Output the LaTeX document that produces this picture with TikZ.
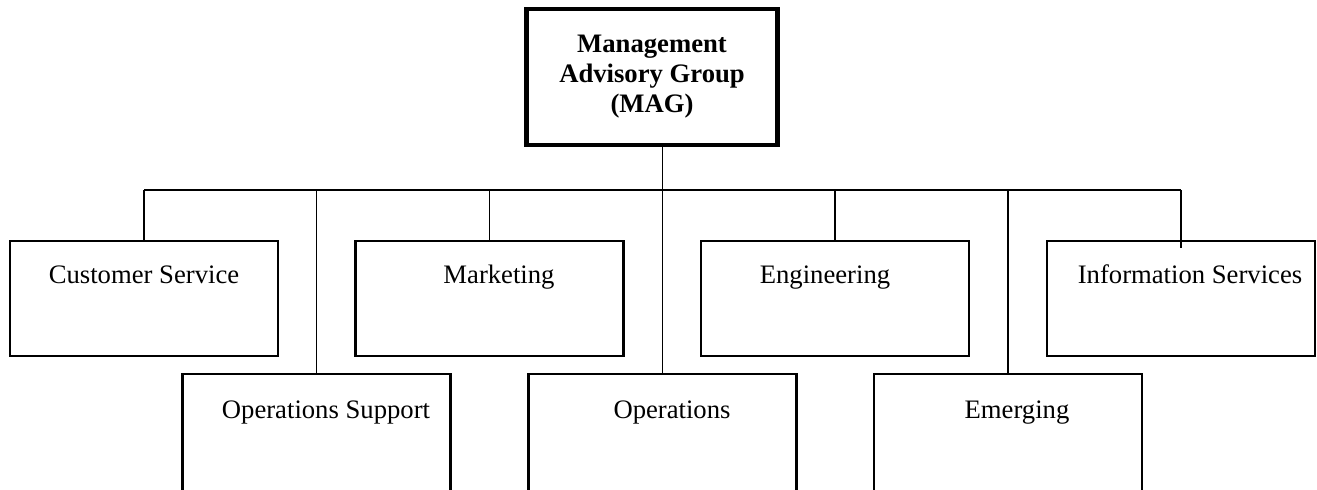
\documentclass[tikz,border=0pt]{standalone}
\usepackage{fontspec}
\setmainfont{Liberation Serif}
\usepackage{tikz}

\begin{document}
\begin{tikzpicture}[x=0.45pt,y=-0.45pt,
        dept/.style={
          draw,line width=1pt,minimum width=120.6pt,minimum height=51.75pt
        },
        lbl/.style={anchor=base,inner sep=0pt,font=\fontsize{12}{13.5}\selectfont},
        link/.style={line width=0.65pt}
      ]
      \useasboundingbox (0,0) rectangle (1317,489);
      \clip (0,0) rectangle (1317,489);
      \node [draw,line width=2.1pt,minimum width=113pt,minimum height=61.2pt,
             align=center,font=\fontsize{12}{13.5}\selectfont\bfseries] (mag) at (652,77)
            {Management\\Advisory Group\\(MAG)};
      \coordinate (bar) at (0,190);
      % top row
      \node [dept] (cs) at (144,298.5) {};
      \node [dept] (mk) at (489.5,298.5) {};
      \node [dept] (en) at (835,298.5) {};
      \node [dept] (is) at (1181,298.5) {};
      % bottom row, cut off at the bottom
      \node [dept,minimum height=58.5pt] (os) at (316.5,439) {};
      \node [dept,minimum height=58.5pt] (op) at (662.5,439) {};
      \node [dept,minimum height=58.5pt] (em) at (1008,439) {};
      \node [lbl] (cslbl) at (144,283) {Customer Service};
      \node [lbl] (mklbl) at (499,283) {Marketing};
      \node [lbl] (enlbl) at (825,283) {Engineering};
      \node [lbl] (islbl) at (1190,283) {Information Services};
      \node [lbl] (oslbl) at (326,418) {Operations Support};
      \node [lbl] (oplbl) at (672,418) {Operations};
      \node [lbl] (emlbl) at (1017,418) {Emerging};
      \draw [link] (mag.south -| op.north) -- (op.north);
      \draw [link] (cs.north |- bar) -- (is.north |- bar);
      \draw [link] (cs.north |- bar) -- (cs.north);
      \draw [link] (mk.north |- bar) -- (mk.north);
      \draw [link] (en.north |- bar) -- (en.north);
      \draw [link] (is.north |- bar) -- ([yshift=-3.6pt]is.north);
      \draw [link] (os.north |- bar) -- (os.north);
      \draw [link] (em.north |- bar) -- (em.north);
    \end{tikzpicture}
\end{document}
